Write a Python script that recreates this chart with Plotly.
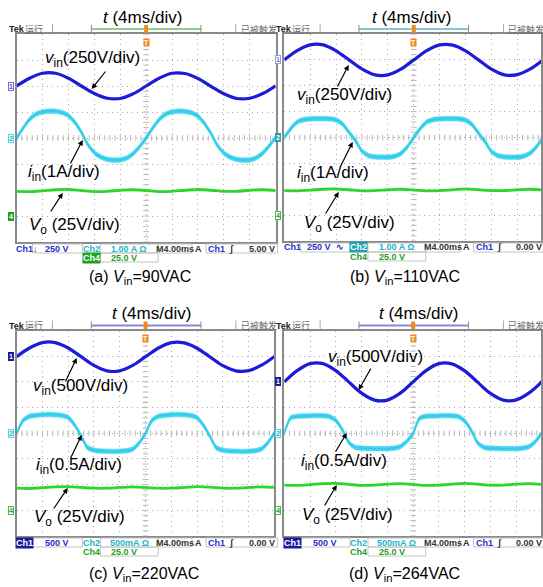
import plotly.graph_objects as go

W, H = 543, 587

# ---------------- data (values in scope divisions) ----------------
T_V = [0.0, 0.5, 1.0, 1.5, 2.0, 2.5, 3.0, 3.5, 4.0, 4.5, 5.0,
       5.5, 6.0, 6.5, 7.0, 7.5, 8.0, 8.5, 9.0, 9.5, 10.0]
T_I = [0.0, 0.25, 0.5, 0.75, 1.0, 1.25, 1.5, 1.75, 2.0, 2.25, 2.5, 2.75, 3.0, 3.25,
       3.5, 3.75, 4.0, 4.25, 4.5, 4.75, 5.0, 5.25, 5.5, 5.75, 6.0, 6.25, 6.5, 6.75,
       7.0, 7.25, 7.5, 7.75, 8.0, 8.25, 8.5, 8.75, 9.0, 9.25, 9.5, 9.75, 10.0]

VIN_A = [2.00, 2.30, 2.49, 2.49, 2.30, 2.00, 1.71, 1.53, 1.52, 1.70, 2.00,
         2.30, 2.49, 2.48, 2.29, 1.99, 1.70, 1.52, 1.53, 1.71, 2.01]
VIN_B = [3.00, 3.36, 3.58, 3.58, 3.35, 3.00, 2.65, 2.42, 2.42, 2.64, 3.00,
         3.36, 3.58, 3.57, 3.35, 3.00, 2.64, 2.42, 2.43, 2.65, 3.01]
VIN_C = [2.98, 3.32, 3.53, 3.53, 3.32, 2.98, 2.64, 2.43, 2.43, 2.64, 2.98,
         3.32, 3.53, 3.52, 3.31, 2.97, 2.63, 2.43, 2.44, 2.65, 2.99]
VIN_D = [2.00, 2.44, 2.71, 2.71, 2.44, 2.00, 1.56, 1.29, 1.29, 1.56, 2.00,
         2.44, 2.71, 2.70, 2.43, 1.99, 1.55, 1.29, 1.30, 1.57, 2.01]

IIN_A = [0.00, 0.38, 0.72, 0.92, 1.00, 1.03, 1.03, 0.98, 0.86, 0.60, 0.22, -0.25, -0.56, -0.73,
         -0.82, -0.85, -0.84, -0.77, -0.60, -0.33, 0.00,
         0.38, 0.71, 0.92, 1.00, 1.03, 1.02, 0.97, 0.84, 0.56, 0.18, -0.28, -0.58, -0.74,
         -0.82, -0.85, -0.84, -0.76, -0.58, -0.30, 0.02]
IIN_B = [0.00, 0.34, 0.60, 0.69, 0.72, 0.73, 0.73, 0.72, 0.68, 0.52, 0.20, -0.12, -0.52, -0.70,
         -0.75, -0.76, -0.76, -0.73, -0.62, -0.36, 0.00,
         0.34, 0.60, 0.69, 0.72, 0.73, 0.73, 0.72, 0.67, 0.50, 0.17, -0.16, -0.54, -0.70,
         -0.75, -0.76, -0.76, -0.72, -0.60, -0.34, 0.02]
IIN_C = [0.00, 0.50, 0.66, 0.70, 0.72, 0.73, 0.72, 0.69, 0.62, 0.32, -0.10, -0.56, -0.66, -0.69,
         -0.70, -0.71, -0.70, -0.68, -0.62, -0.38, 0.00,
         0.50, 0.66, 0.70, 0.72, 0.73, 0.72, 0.69, 0.61, 0.30, -0.12, -0.57, -0.66, -0.69,
         -0.70, -0.71, -0.70, -0.68, -0.61, -0.36, 0.02]
IIN_D = [0.00, 0.60, 0.66, 0.67, 0.68, 0.69, 0.68, 0.65, 0.50, 0.15, -0.35, -0.55, -0.58, -0.59,
         -0.60, -0.60, -0.60, -0.58, -0.52, -0.32, 0.00,
         0.58, 0.66, 0.67, 0.68, 0.69, 0.68, 0.65, 0.48, 0.12, -0.37, -0.55, -0.58, -0.59,
         -0.60, -0.60, -0.60, -0.58, -0.52, -0.32, 0.02]

VO_A = [-2.05, -2.06, -2.03, -1.99, -1.98, -2.02, -2.06, -2.05, -2.01, -1.99, -2.02,
        -2.06, -2.05, -2.01, -1.98, -2.01, -2.05, -2.05, -2.01, -1.99, -2.02]
VO_B = [-2.05, -2.06, -2.03, -2.00, -1.99, -2.02, -2.06, -2.05, -2.02, -2.00, -2.03,
        -2.06, -2.05, -2.02, -1.99, -2.02, -2.05, -2.05, -2.02, -2.00, -2.03]
VO_C = [-2.14, -2.15, -2.12, -2.09, -2.08, -2.11, -2.14, -2.14, -2.11, -2.09, -2.11,
        -2.14, -2.14, -2.11, -2.08, -2.10, -2.14, -2.14, -2.11, -2.09, -2.11]
VO_D = [-2.02, -2.03, -2.00, -1.96, -1.95, -1.99, -2.03, -2.02, -1.98, -1.96, -1.99,
        -2.03, -2.02, -1.98, -1.95, -1.98, -2.02, -2.02, -1.98, -1.96, -1.99]

VIN_OFFSET = [2, 3, 3, 2]      # channel-1 ground marker (div)
CAPTIONS = ["(a) <i>V</i><sub>in</sub>=90VAC", "(b) <i>V</i><sub>in</sub>=110VAC",
            "(c) <i>V</i><sub>in</sub>=220VAC", "(d) <i>V</i><sub>in</sub>=264VAC"]
VIN_LABELS = ["<i>v</i><sub>in</sub>(250V/div)", "<i>v</i><sub>in</sub>(250V/div)",
              "<i>v</i><sub>in</sub>(500V/div)", "<i>v</i><sub>in</sub>(500V/div)"]
IIN_LABELS = ["<i>i</i><sub>in</sub>(1A/div)", "<i>i</i><sub>in</sub>(1A/div)",
              "<i>i</i><sub>in</sub>(0.5A/div)", "<i>i</i><sub>in</sub>(0.5A/div)"]
VO_LABEL = "<i>V</i><sub>o</sub> (25V/div)"
TITLE = "<i>t</i> (4ms/div)"
CH1_SCALE = ["250 V", "250 V  \u223f", "500 V", "500 V"]
CH2_SCALE = ["1.00 A \u03a9", "1.00 A \u03a9", "500mA \u03a9", "500mA \u03a9"]
TRIG_LEVEL = ["5.00 V", "0.00 V", "0.00 V", "0.00 V"]

# ---------------- styling / geometry ----------------
BLUE = "#1c1cd8"
CYAN = "#48d8f0"
CYAN_D = "#2fcbe8"
GREEN = "#2cd62c"
GRID = "#a9a9a9"
TICK = "#b8b8b8"
BORDER = "#8a8a8a"
FONT = "Liberation Sans, Arial, sans-serif"
HW = 0.09  # half-width of the noisy current band (div)
SUBY = 1   # vertical correction for labels holding a subscript

panels = [
    dict(L=16.7, R=276.7, T=34.0, B=242.0, title=(143, 17.5), cap=(141, 279),
         vin_lab=(93, 60), iin_lab=(64, 174), vo_lab=(75, 227),
         vin_arr=((92, 89), (107, 70)), iin_arr=((83, 140), (70, 165)), vo_arr=((63, 193), (50, 213)),
         bar="#8fd08f"),
    dict(L=285.3, R=545.3, T=34.0, B=241.0, title=(413, 17.5), cap=(406, 279),
         vin_lab=(346, 97), iin_lab=(334, 175), vo_lab=(351, 225),
         vin_arr=((350, 65), (338, 88)), iin_arr=((354, 142), (341, 168)), vo_arr=((340, 192), (326, 215)),
         bar="#84c8d6"),
    dict(L=16.7, R=275.5, T=330.5, B=536.0, title=(152, 313), cap=(145, 575),
         vin_lab=(81, 388), iin_lab=(79, 467), vo_lab=(80, 519),
         vin_arr=((77, 358), (65, 383)), iin_arr=((82, 435), (70, 460)), vo_arr=((68, 488), (53, 510)),
         bar="#8a8ad6"),
    dict(L=285.3, R=544.0, T=330.5, B=536.0, title=(420, 313), cap=(406, 575),
         vin_lab=(377, 359), iin_lab=(345, 463), vo_lab=(349, 517),
         vin_arr=((360, 390), (373, 367)), iin_arr=((348, 433), (336, 453)), vo_arr=((338, 485), (325, 507)),
         bar="#8a8ad6"),
]
VINS = [VIN_A, VIN_B, VIN_C, VIN_D]
IINS = [IIN_A, IIN_B, IIN_C, IIN_D]
VOS = [VO_A, VO_B, VO_C, VO_D]


def px(x):
    return x / W


def py(y):
    return 1 - y / H


fig = go.Figure()
layout = dict(width=W, height=H, margin=dict(l=0, r=0, t=0, b=0),
              paper_bgcolor="white", plot_bgcolor="white", showlegend=False)
ann = []
shapes = []

TICKS_X = [i * 0.2 for i in range(51)]
TICKS_Y = [-4 + i * 0.2 for i in range(41)]

for k, p in enumerate(panels):
    s = "" if k == 0 else str(k + 1)
    L, R, T, B = p["L"], p["R"], p["T"], p["B"]
    Rv = min(R, W)
    xr = 10 * (Rv - L) / (R - L)
    common = dict(showgrid=True, gridcolor=GRID, griddash="1px,4px", gridwidth=1, dtick=1, tick0=0,
                  showticklabels=False, ticks="", zeroline=False, showline=True, linecolor=BORDER,
                  linewidth=1.5, mirror=True, fixedrange=True)
    layout["xaxis" + s] = dict(domain=[px(L), px(Rv)], range=[0, xr], anchor="y" + s, **common)
    layout["yaxis" + s] = dict(domain=[py(B), py(T)], range=[-4, 4], anchor="x" + s, **common)
    xa, ya = "x" + s, "y" + s

    # center-line minor ticks
    fig.add_trace(go.Scatter(x=TICKS_X, y=[0] * len(TICKS_X), mode="markers", xaxis=xa, yaxis=ya,
                             marker=dict(symbol="line-ns", size=4, line=dict(width=1, color=TICK)),
                             hoverinfo="skip"))
    fig.add_trace(go.Scatter(x=[5] * len(TICKS_Y), y=TICKS_Y, mode="markers", xaxis=xa, yaxis=ya,
                             marker=dict(symbol="line-ew", size=4, line=dict(width=1, color=TICK)),
                             hoverinfo="skip"))

    # vin
    fig.add_trace(go.Scatter(x=T_V, y=VINS[k], mode="lines", xaxis=xa, yaxis=ya,
                             line=dict(color=BLUE, width=3.2, shape="spline", smoothing=1.0)))
    # iin band
    cur = IINS[k]
    fig.add_trace(go.Scatter(x=T_I, y=[v - HW for v in cur], mode="lines", xaxis=xa, yaxis=ya,
                             line=dict(color=CYAN, width=0.5, shape="spline", smoothing=0.7)))
    fig.add_trace(go.Scatter(x=T_I, y=[v + HW for v in cur], mode="lines", xaxis=xa, yaxis=ya,
                             fill="tonexty", fillcolor=CYAN,
                             line=dict(color=CYAN, width=0.5, shape="spline", smoothing=0.7)))
    fig.add_trace(go.Scatter(x=T_I, y=cur, mode="lines", xaxis=xa, yaxis=ya,
                             line=dict(color=CYAN_D, width=1.6, shape="spline", smoothing=0.7)))
    # Vo
    fig.add_trace(go.Scatter(x=T_V, y=VOS[k], mode="lines", xaxis=xa, yaxis=ya,
                             line=dict(color=GREEN, width=2.8, shape="spline", smoothing=1.0)))

    # title and caption
    ann.append(dict(x=px(p["title"][0]), y=py(p["title"][1]), xref="paper", yref="paper", text=TITLE,
                    showarrow=False, font=dict(family=FONT, size=17, color="black"),
                    xanchor="center", yanchor="middle"))
    ann.append(dict(x=px(p["cap"][0]), y=py(p["cap"][1] - SUBY), xref="paper", yref="paper",
                    text=CAPTIONS[k], showarrow=False, font=dict(family=FONT, size=16, color="black"),
                    xanchor="center", yanchor="middle"))
    # trace labels
    for key, txt in (("vin_lab", VIN_LABELS[k]), ("iin_lab", IIN_LABELS[k]), ("vo_lab", VO_LABEL)):
        ann.append(dict(x=px(p[key][0]), y=py(p[key][1] - SUBY), xref="paper", yref="paper", text=txt,
                        showarrow=False, font=dict(family=FONT, size=17, color="black"),
                        xanchor="center", yanchor="middle"))
    for key in ("vin_arr", "iin_arr", "vo_arr"):
        (hx, hy), (tx, ty) = p[key]
        ann.append(dict(x=px(hx), y=py(hy), xref="paper", yref="paper", text="", showarrow=True,
                        ax=tx - hx, ay=ty - hy, arrowhead=2, arrowsize=0.9, arrowwidth=1.2,
                        arrowcolor="black", standoff=0))

    # header bar
    hy = T - 5
    ann.append(dict(x=px(L - 10), y=py(hy), xref="paper", yref="paper", text="<b>Tek</b>", showarrow=False,
                    font=dict(family=FONT, size=9, color="#222"), xanchor="left", yanchor="middle"))
    ann.append(dict(x=px(L + 6), y=py(hy), xref="paper", yref="paper", text="运行", showarrow=False,
                    font=dict(family="Noto Sans CJK SC", size=9, color="#666"), xanchor="left",
                    yanchor="middle"))
    ann.append(dict(x=px(L + 223), y=py(hy), xref="paper", yref="paper", text="已被触发", showarrow=False,
                    font=dict(family="Noto Sans CJK SC", size=9, color="#666"), xanchor="left",
                    yanchor="middle"))
    for sx in (L + 36, L + 220):
        shapes.append(dict(type="line", xref="paper", yref="paper", x0=px(sx), x1=px(sx),
                           y0=py(T - 10), y1=py(T - 1), line=dict(color="#aaa", width=1)))
    shapes.append(dict(type="line", xref="paper", yref="paper", x0=px(L + 75), x1=px(L + 185),
                       y0=py(T - 5), y1=py(T - 5), line=dict(color=p["bar"], width=2)))
    for sx in (L + 75, L + 185):
        shapes.append(dict(type="line", xref="paper", yref="paper", x0=px(sx), x1=px(sx),
                           y0=py(T - 9), y1=py(T - 2), line=dict(color="#888", width=1)))
    cx = L + (R - L) / 2
    shapes.append(dict(type="rect", xref="paper", yref="paper", x0=px(cx - 2), x1=px(cx + 2),
                       y0=py(T - 1), y1=py(T - 9), fillcolor="#f08a1c", line=dict(width=0)))
    ann.append(dict(x=px(cx), y=py(T + 8), xref="paper", yref="paper", text="<b>T</b>", showarrow=False,
                    font=dict(family=FONT, size=7, color="white"), bgcolor="#f08a1c",
                    borderpad=0, xanchor="center", yanchor="middle"))

    # channel markers
    ch1_style = [("white", "#7070d8", "#5050c0"), ("white", "#9a9ae0", "#7070c8"),
                 ("#1a1a9a", "#1a1a9a", "white"), ("#1a1a9a", "#1a1a9a", "white")][k]
    ch2_style = [("white", CYAN, "#20b0c8"), ("#20a0b0", "#20a0b0", "white"),
                 ("white", CYAN, "#20b0c8"), ("white", CYAN, "#20b0c8")][k]
    ch4_style = [("#1ea01e", "#1ea01e", "white"), ("white", "#40c040", "#30a030"),
                 ("white", "#40c040", "#30a030"), ("white", "#40c040", "#30a030")][k]
    for lab, yv, (bg, bc, fc) in (("1", VIN_OFFSET[k], ch1_style), ("2", 0, ch2_style), ("4", -3, ch4_style)):
        ann.append(dict(x=px(L - 6), y=yv, xref="paper", yref=ya, text="<b>%s</b>" % lab, showarrow=False,
                        font=dict(family=FONT, size=7, color=fc), bgcolor=bg, bordercolor=bc,
                        borderwidth=1, borderpad=0, xanchor="center", yanchor="middle"))

    # status bar
    r1, r2 = B + 6.5, B + 15.5
    for (x0, x1, y0, y1) in ((L + 16, L + 66, B + 2, B + 11), (L + 84, L + 142, B + 2, B + 11),
                             (L + 142, L + 176, B + 2, B + 11), (L + 190, L + 262, B + 2, B + 11),
                             (L + 84, L + 142, B + 11, B + 20)):
        shapes.append(dict(type="rect", xref="paper", yref="paper", x0=px(x0), x1=px(x1),
                           y0=py(y0), y1=py(y1), line=dict(color="#c4c4c4", width=1)))
    SF = dict(family=FONT, size=9)
    ch1_t = dict(text="<b>Ch1</b>", font=dict(SF, color="#2d2dc8"))
    if k >= 2:
        ch1_t = dict(text="<b>Ch1</b>", font=dict(SF, color="white"), bgcolor="#1a1a9a")
    ch2_t = dict(text="<b>Ch2</b>", font=dict(SF, color="#22b4cc"))
    if k == 1:
        ch2_t = dict(text="<b>Ch2</b>", font=dict(SF, color="white"), bgcolor="#20a0b0")
    ch4_t = dict(text="<b>Ch4</b>", font=dict(SF, color="#1ea01e"))
    if k == 0:
        ch4_t = dict(text="<b>Ch4</b>", font=dict(SF, color="white"), bgcolor="#1ea01e")
    items = [
        (L + 8, r1, ch1_t),
        (L + 41, r1, dict(text="<b>%s</b>" % CH1_SCALE[k], font=dict(SF, color="#2d2dc8"))),
        (L + 75, r1, ch2_t),
        (L + 113, r1, dict(text="<b>%s</b>" % CH2_SCALE[k], font=dict(SF, color="#22b4cc"))),
        (L + 159, r1, dict(text="<b>M4.00ms</b>", font=dict(SF, color="#333"))),
        (L + 183, r1, dict(text="<b>A</b>", font=dict(SF, color="#333"))),
        (L + 201, r1, dict(text="<b>Ch1</b>", font=dict(SF, color="#2d2dc8"))),
        (L + 216, r1, dict(text="<b>\u0283</b>", font=dict(SF, color="#333"))),
        (L + 246, r1, dict(text="<b>%s</b>" % TRIG_LEVEL[k], font=dict(SF, color="#333"))),
        (L + 75, r2, ch4_t),
        (L + 108, r2, dict(text="<b>25.0 V</b>", font=dict(SF, color="#1ea01e"))),
    ]
    if k == 0:
        items.append((L + 19, r1, dict(text="<b>\u2193</b>", font=dict(SF, color="#2d2dc8"))))
    for (x, y, d) in items:
        a = dict(x=px(x), y=py(y), xref="paper", yref="paper", showarrow=False, xanchor="center",
                 yanchor="middle", borderpad=0)
        a.update(d)
        ann.append(a)

layout["annotations"] = ann
layout["shapes"] = shapes
fig.update_layout(**layout)
fig.write_html("out.html", config={"displayModeBar": False},
               post_script="document.body.style.margin='0px';")
